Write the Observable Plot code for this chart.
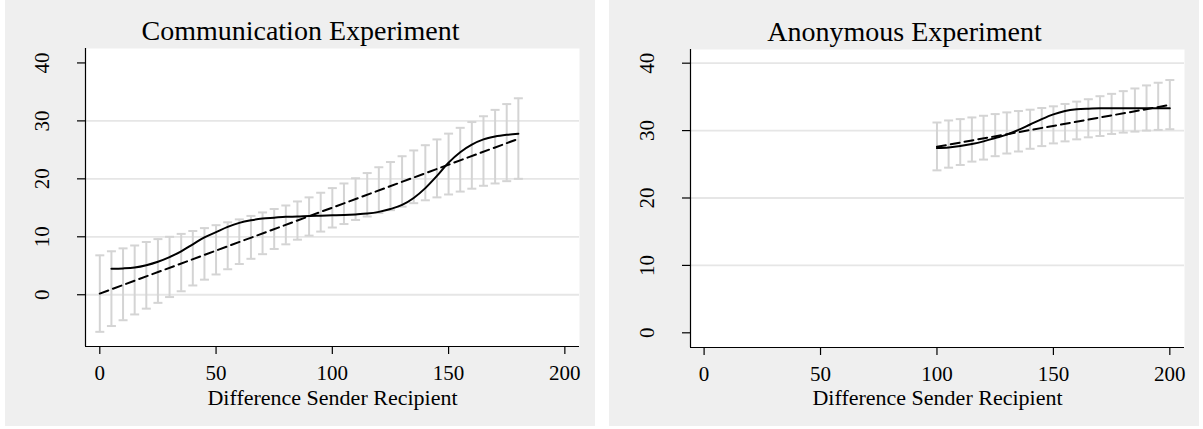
<!DOCTYPE html>
<html>
<head>
<meta charset="utf-8">
<script src="https://cdn.jsdelivr.net/npm/d3@7"></script>
<script src="https://cdn.jsdelivr.net/npm/@observablehq/plot@0.6"></script>
<style>
  html, body { margin: 0; padding: 0; background: #ffffff; overflow: hidden; }
  #wrap { position: relative; width: 1203px; height: 429px; }
  .panel { position: absolute; top: 0; }
  .panel svg { display: block; }
</style>
</head>
<body>
<div id="wrap">
  <div id="left" class="panel" style="left:5px"></div>
  <div id="right" class="panel" style="left:609px"></div>
</div>
<script>
// ---------- Data ----------
const xTicks = [0, 50, 100, 150, 200];
const yTicks = [0, 10, 20, 30, 40];
const xAxisTitle = "Difference Sender Recipient";

// Communication Experiment
const commTitle = "Communication Experiment";
const commBarX = [0,5,10,15,20,25,30,35,40,45,50,55,60,65,70,75,80,85,90,95,100,105,110,115,120,125,130,135,140,145,150,155,160,165,170,175,180];
const commLo = [-6.4,-5.4,-4.4,-3.4,-2.4,-1.4,-0.4,0.6,1.6,2.6,3.5,4.4,5.3,6.2,7.0,7.9,8.7,9.5,10.2,10.9,11.6,12.2,12.9,13.5,14.1,14.6,15.2,15.8,16.3,16.8,17.3,17.8,18.3,18.8,19.2,19.6,20.0];
const commHi = [6.8,7.5,8.0,8.5,9.1,9.6,10.0,10.5,11.0,11.5,12.0,12.5,13.0,13.6,14.2,14.8,15.4,16.1,16.8,17.6,18.4,19.2,20.1,21.0,22.0,22.9,23.9,24.9,25.8,26.8,27.8,28.8,29.8,30.8,31.9,32.9,33.9];
const commFitX = [0, 180];
const commFitY = [0.2, 26.9];
const commSmoothX = [5,10,15,20,25,30,35,40,45,50,55,60,65,70,75,80,85,90,95,100,105,110,115,120,125,130,135,140,145,150,155,160,165,170,175,180];
const commSmoothY = [4.5,4.55,4.7,5.1,5.7,6.5,7.5,8.7,9.9,10.8,11.7,12.4,12.85,13.15,13.3,13.45,13.5,13.6,13.65,13.7,13.75,13.85,14.0,14.3,14.8,15.5,16.7,18.4,20.5,22.8,24.6,25.9,26.8,27.3,27.6,27.8];
const commGrid = [0, 10, 20, 30];

// Anonymous Experiment
const anonTitle = "Anonymous Experiment";
const anonBarX = [100,105,110,115,120,125,130,135,140,145,150,155,160,165,170,175,180,185,190,195,200];
const anonLo = [24.1,24.5,24.9,25.4,25.7,26.2,26.6,26.9,27.3,27.7,28.1,28.4,28.7,29.0,29.2,29.5,29.7,29.85,30.0,30.1,30.2];
const anonHi = [31.2,31.5,31.7,31.95,32.2,32.45,32.7,32.9,33.1,33.35,33.6,33.95,34.3,34.65,35.1,35.45,35.85,36.25,36.7,37.1,37.5];
const anonFitX = [100, 200];
const anonFitY = [27.6, 33.8];
const anonSmoothX = [100,105,110,115,120,125,130,135,140,145,150,155,160,165,170,175,180,185,190,195,200];
const anonSmoothY = [27.4,27.5,27.7,28.0,28.4,28.9,29.4,30.1,30.9,31.7,32.4,32.9,33.15,33.25,33.3,33.3,33.3,33.3,33.3,33.3,33.3];
const anonGrid = [10, 20, 30, 40];

// ---------- Drawing ----------
const FONT = "'Liberation Serif', 'Times New Roman', Times, serif";
const capSymbol = {
  draw(context) { context.moveTo(-4.5, 0); context.lineTo(4.5, 0); }
};

function panel(cfg) {
  const bars = cfg.barX.map((x, i) => ({x, lo: cfg.lo[i], hi: cfg.hi[i]}));
  const fit = cfg.fitX.map((x, i) => ({x, y: cfg.fitY[i]}));
  const smooth = cfg.smoothX.map((x, i) => ({x, y: cfg.smoothY[i]}));
  const barColor = "#d4d4d4";
  return Plot.plot({
    width: 590,
    height: 426,
    marginLeft: cfg.ml,
    marginRight: cfg.mr,
    marginTop: cfg.mt,
    marginBottom: cfg.mb,
    style: {background: "#efefef", fontFamily: FONT, fontSize: "21px", color: "black"},
    x: {domain: cfg.xDomain, axis: null},
    y: {domain: cfg.yDomain, axis: null},
    marks: [
      Plot.frame({fill: "white", stroke: null}),
      Plot.ruleY(cfg.grid, {stroke: "#e6e6e6", strokeWidth: 1.8}),
      Plot.ruleX(bars, {x: "x", y1: "lo", y2: "hi", stroke: barColor, strokeWidth: 2}),
      Plot.dot(bars, {x: "x", y: "lo", symbol: capSymbol, fill: "none", stroke: barColor, strokeWidth: 2, r: 4}),
      Plot.dot(bars, {x: "x", y: "hi", symbol: capSymbol, fill: "none", stroke: barColor, strokeWidth: 2, r: 4}),
      Plot.line(fit, {x: "x", y: "y", stroke: "black", strokeWidth: 2, strokeDasharray: "9,5"}),
      Plot.line(smooth, {x: "x", y: "y", stroke: "black", strokeWidth: 2, curve: "monotone-x"}),
      Plot.ruleX([cfg.xDomain[0]], {stroke: "black", strokeWidth: 1.2}),
      Plot.ruleY([cfg.yDomain[0]], {stroke: "black", strokeWidth: 1.2}),
      Plot.axisX({ticks: xTicks, tickSize: 8, tickPadding: 10.5, label: null, fontSize: 21, tickFormat: d => String(d), stroke: "black", strokeWidth: 1.2}),
      Plot.axisY({ticks: yTicks, tickSize: 8, label: null, tickFormat: () => "", stroke: "black", strokeWidth: 1.2}),
      Plot.text(yTicks, {y: d => d, text: d => String(d), frameAnchor: "left", rotate: -90, dx: -43, textAnchor: "middle", lineAnchor: "middle", fontSize: 21, fill: "black"}),
      Plot.text([xAxisTitle], {text: d => d, frameAnchor: "bottom", dy: cfg.xtDy, lineAnchor: "bottom", fontSize: 22, fill: "black"}),
      Plot.text([cfg.title], {text: d => d, frameAnchor: "top", dy: -9, dx: cfg.titleDx, lineAnchor: "bottom", fontSize: 28, fill: "black"})
    ]
  });
}

document.getElementById("left").append(panel({
  title: commTitle, barX: commBarX, lo: commLo, hi: commHi,
  fitX: commFitX, fitY: commFitY, smoothX: commSmoothX, smoothY: commSmoothY,
  grid: commGrid, xDomain: [-6.15, 206.3], yDomain: [-8.93, 42.49],
  ml: 80, mr: 16, mt: 48, mb: 80, titleDx: -32, xtDy: 58.5
}));

document.getElementById("right").append(panel({
  title: anonTitle, barX: anonBarX, lo: anonLo, hi: anonHi,
  fitX: anonFitX, fitY: anonFitY, smoothX: anonSmoothX, smoothY: anonSmoothY,
  grid: anonGrid, xDomain: [-5.84, 206.3], yDomain: [-2.18, 42.03],
  ml: 81, mr: 15, mt: 49, mb: 79, titleDx: -33, xtDy: 57.5
}));
</script>
</body>
</html>
